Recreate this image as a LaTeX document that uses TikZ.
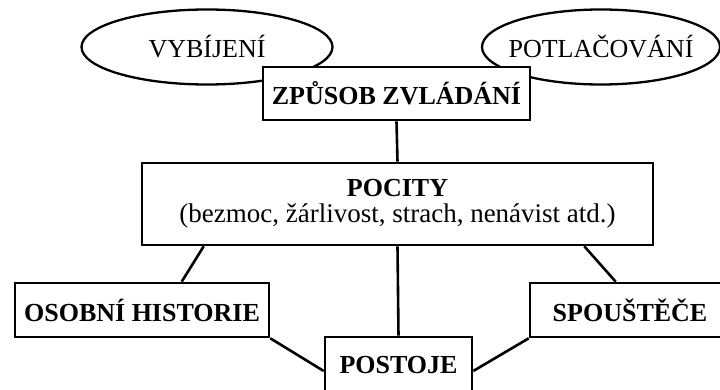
\documentclass[tikz,border=0pt]{standalone}
\usepackage{fontspec}
\setmainfont{Liberation Serif}
\usepackage{tikz}
\usetikzlibrary{shapes.geometric}

\begin{document}
\begin{tikzpicture}[x=1pt,y=-1pt,
  box/.style={draw,line width=2.6pt,fill=white,inner sep=0pt,font=\fontsize{26}{30}\selectfont\bfseries},
  oval/.style={draw,ellipse,line width=2.3pt,inner xsep=-20pt,inner ysep=0pt,font=\fontsize{26}{30}\selectfont},
  link/.style={line width=2.6pt}]
\useasboundingbox (0,0) rectangle (720,390);
\clip (0,0) rectangle (720,390);
\node[oval,minimum width=251pt,minimum height=75pt] (vybijeni) at (207,47) {VYBÍJENÍ};
\node[oval,minimum width=238pt,minimum height=75pt] (potlacovani) at (601,47) {POTLAČOVÁNÍ};
\node[box,minimum width=267pt,minimum height=53pt] (zpusob) at (396.5,93.5) {ZPŮSOB ZVLÁDÁNÍ};
\node[box,minimum width=511pt,minimum height=82pt,align=center] (pocity) at (397.5,204)
  {POCITY\\[-4pt]{\fontsize{27}{30}\selectfont\mdseries(bezmoc, žárlivost, strach, nenávist atd.)}};
\node[box,minimum width=254pt,minimum height=54pt] (osobni) at (142,310) {OSOBNÍ HISTORIE};
\node[box,minimum width=200pt,minimum height=54pt] (spoustece) at (630,310) {SPOUŠTĚČE};
\node[box,minimum width=147pt,minimum height=56pt] (postoje) at (398.5,365) {POSTOJE};
\draw[link] (zpusob.south) -- (pocity.north);
\draw[link] ([xshift=63pt]pocity.south west) -- ([xshift=168pt]osobni.north west);
\draw[link] ([xshift=-70pt]pocity.south east) -- ([xshift=87pt]spoustece.north west);
\draw[link] (pocity.south) -- (postoje.north);
\draw[link] (osobni.south east) -- ([yshift=-6pt]postoje.west);
\draw[link] (spoustece.south west) -- ([yshift=-6pt]postoje.east);
\end{tikzpicture}
\end{document}
